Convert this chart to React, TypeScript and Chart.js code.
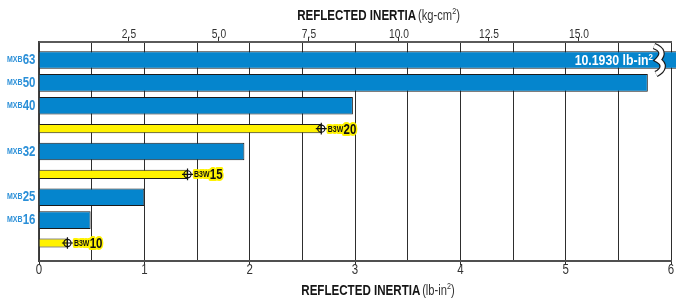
import React, { useEffect, useRef } from 'react';
import { Chart, registerables } from 'chart.js';

Chart.register(...registerables);

// ---- data ----
const blueLabels = ['MXB63', 'MXB50', 'MXB40', 'MXB32', 'MXB25', 'MXB16'];
const blueRows = [0, 1, 2, 4, 6, 7];
const blueValues = [10.193, 5.78, 2.98, 1.95, 1.0, 0.49];
const yellowLabels = ['B3W20', 'B3W15', 'B3W10'];
const yellowRows = [3, 5, 8];
const yellowValues = [2.68, 1.41, 0.27];
const bottomGrid = [0, 0.5, 1, 1.5, 2, 2.5, 3, 3.5, 4, 4.5, 5, 5.5, 6];
const topTicks = [2.5, 5.0, 7.5, 10.0, 12.5, 15.0];
const KG_CM2_PER_LB_IN2 = 2.9264;
const X_MAX = 6;
const breakValueLabel = '10.1930 lb-in';

// ---- styles ----
const FONT = '"Liberation Sans", Arial, sans-serif';
const SX = 0.82; // horizontal condensing for a Helvetica-Condensed look
const BLUE = '#0585cd';
const LABEL_BLUE = '#2a8fd8';
const YELLOW = '#fff200';
const EDGE = '#1b1b1b';
const GRID = '#2e2e2e';

function splitLabel(s: string): [string, string] {
  const m = s.match(/^(.*?)(\d+)$/);
  return m ? [m[1], m[2]] : [s, ''];
}

function capAscent(ctx: CanvasRenderingContext2D, font: string) {
  ctx.font = font;
  return ctx.measureText('0').actualBoundingBoxAscent;
}

function tw(ctx: CanvasRenderingContext2D, text: string, font: string, sx = SX) {
  ctx.font = font;
  return ctx.measureText(text).width * sx;
}

function txt(ctx: CanvasRenderingContext2D, text: string, x: number, y: number, font: string, sx = SX, stroke = false) {
  ctx.save();
  ctx.translate(x, y);
  ctx.scale(sx, 1);
  ctx.font = font;
  ctx.textAlign = 'left';
  ctx.textBaseline = 'alphabetic';
  if (stroke) ctx.strokeText(text, 0, 0);
  else ctx.fillText(text, 0, 0);
  ctx.restore();
}

function drawTitle(ctx: CanvasRenderingContext2D, cx: number, baseline: number, bold: string, unit: string) {
  const bFont = `bold 14.5px ${FONT}`;
  const nFont = `14px ${FONT}`;
  const sFont = `9px ${FONT}`;
  ctx.font = bFont;
  const wb = ctx.measureText(bold).width;
  const k = 119 / wb;
  ctx.font = nFont;
  const wsp = ctx.measureText(' ').width * 0.6;
  const w1 = ctx.measureText('(' + unit).width;
  const w3 = ctx.measureText(')').width;
  ctx.font = sFont;
  const w2 = ctx.measureText('2').width;
  const total = (wb + wsp + w1 + w2 + w3) * k;
  ctx.save();
  ctx.translate(cx - total / 2, baseline);
  ctx.scale(k, 1);
  ctx.fillStyle = '#151515';
  ctx.textBaseline = 'alphabetic';
  ctx.textAlign = 'left';
  ctx.font = bFont;
  ctx.fillText(bold, 0, 0);
  ctx.fillStyle = '#333';
  ctx.font = nFont;
  let x = wb + wsp;
  ctx.fillText('(' + unit, x, 0);
  x += w1;
  ctx.font = sFont;
  ctx.fillText('2', x, -6);
  x += w2;
  ctx.font = nFont;
  ctx.fillText(')', x, 0);
  ctx.restore();
}

function drawBreak(ctx: CanvasRenderingContext2D, cx: number, top: number, bottom: number) {
  const m = (top + bottom) / 2;
  const path = () => {
    ctx.beginPath();
    ctx.moveTo(cx - 5, top);
    ctx.bezierCurveTo(cx + 3, top + 3, cx + 5, m - 6, cx - 1, m);
    ctx.bezierCurveTo(cx + 6, m + 4, cx + 5, bottom - 4, cx - 3, bottom);
  };
  ctx.save();
  ctx.lineCap = 'butt';
  path();
  ctx.strokeStyle = EDGE;
  ctx.lineWidth = 6.5;
  ctx.stroke();
  path();
  ctx.strokeStyle = '#ffffff';
  ctx.lineWidth = 4.2;
  ctx.stroke();
  ctx.restore();
}

const overlayPlugin = {
  id: 'overlay',
  afterDatasetsDraw(chart: any) {
    const ctx: CanvasRenderingContext2D = chart.ctx;
    const xs = chart.scales.x;
    const x2 = chart.scales.x2;
    const ys = chart.scales.y;
    const area = chart.chartArea;
    ctx.save();

    // bottom tick labels
    {
      const f = `14px ${FONT}`;
      const a = capAscent(ctx, f);
      ctx.fillStyle = '#333';
      xs.ticks.forEach((t: any) => {
        if (!Number.isInteger(t.value)) return;
        const s = String(t.value);
        const w = tw(ctx, s, f);
        txt(ctx, s, xs.getPixelForValue(t.value) - w / 2, 269 + a / 2, f);
      });
    }
    // top tick labels
    {
      const f = `12.5px ${FONT}`;
      const a = capAscent(ctx, f);
      ctx.fillStyle = '#333';
      x2.ticks.forEach((t: any) => {
        const s = Number(t.value).toFixed(1);
        const w = tw(ctx, s, f);
        txt(ctx, s, x2.getPixelForValue(t.value) - w / 2, 33.8 + a / 2, f);
      });
    }

    const numFont = `bold 14px ${FONT}`;
    const preFont = `bold 8.5px ${FONT}`;
    const aNum = capAscent(ctx, numFont);
    const aPre = capAscent(ctx, preFont);

    // left category labels
    blueLabels.forEach((lab, i) => {
      const [p, n] = splitLabel(lab);
      const yc = ys.getPixelForValue(blueRows[i]) - 1;
      const wn = tw(ctx, n, numFont);
      const wp = tw(ctx, p, preFont);
      const xr = area.left - 3.5;
      ctx.fillStyle = LABEL_BLUE;
      txt(ctx, p, xr - wn - wp - 0.3, yc + aPre / 2, preFont);
      txt(ctx, n, xr - wn, yc + aNum / 2, numFont);
    });

    // broken bar: symbol + value label
    const y0 = ys.getPixelForValue(blueRows[0]);
    const bx = area.right - 12;
    drawBreak(ctx, bx, y0 - 14, y0 + 14);
    {
      const f = `bold 14px ${FONT}`;
      const a = capAscent(ctx, f);
      const sf = `bold 9px ${FONT}`;
      const w = tw(ctx, breakValueLabel, f, 0.88);
      const ws = tw(ctx, '2', sf, 0.88);
      const xEnd = bx - 6;
      ctx.fillStyle = '#ffffff';
      txt(ctx, breakValueLabel, xEnd - ws - w, y0 + a / 2, f, 0.88);
      txt(ctx, '2', xEnd - ws, y0 + a / 2 - 5, sf, 0.88);
    }

    // yellow markers and labels
    yellowLabels.forEach((lab, i) => {
      const [p, n] = splitLabel(lab);
      const x = xs.getPixelForValue(yellowValues[i]);
      const y = ys.getPixelForValue(yellowRows[i]);
      const lx = x + 6.5;
      const wp = tw(ctx, p, preFont);
      ctx.lineJoin = 'round';
      ctx.strokeStyle = YELLOW;
      ctx.lineWidth = 4;
      txt(ctx, p, lx, y + aPre / 2, preFont, SX, true);
      txt(ctx, n, lx + wp, y + aNum / 2, numFont, SX, true);
      ctx.fillStyle = '#111';
      txt(ctx, p, lx, y + aPre / 2, preFont);
      txt(ctx, n, lx + wp + 0.3, y + aNum / 2, numFont);
      ctx.strokeStyle = '#111';
      ctx.lineWidth = 1.2;
      ctx.beginPath();
      ctx.arc(x, y, 3.6, 0, Math.PI * 2);
      ctx.stroke();
      ctx.beginPath();
      ctx.moveTo(x - 5.5, y);
      ctx.lineTo(x + 5.5, y);
      ctx.moveTo(x, y - 5.8);
      ctx.lineTo(x, y + 5.8);
      ctx.stroke();
    });

    drawTitle(ctx, 378.5, 20, 'REFLECTED INERTIA', 'kg-cm');
    drawTitle(ctx, 378, 295, 'REFLECTED INERTIA', 'lb-in');
    ctx.restore();
  },
};

export default function App() {
  const ref = useRef<HTMLCanvasElement | null>(null);

  useEffect(() => {
    if (!ref.current) return;
    const allRows = blueRows.concat(yellowRows).sort((a, b) => a - b);
    const chart = new Chart(ref.current, {
      type: 'bar',
      data: {
        datasets: [
          {
            label: 'MXB',
            data: blueValues.map((v, i) => ({ x: v, y: blueRows[i] })),
            backgroundColor: BLUE,
            borderColor: EDGE,
            borderWidth: 1,
            borderSkipped: 'start',
            barPercentage: 0.77,
            categoryPercentage: 1,
            grouped: false,
            clip: false as any,
            xAxisID: 'x',
            yAxisID: 'y',
          },
          {
            label: 'B3W',
            data: yellowValues.map((v, i) => ({ x: v, y: yellowRows[i] })),
            backgroundColor: YELLOW,
            borderColor: EDGE,
            borderWidth: 1,
            borderSkipped: 'start',
            barPercentage: 0.4,
            categoryPercentage: 1,
            grouped: false,
            xAxisID: 'x',
            yAxisID: 'y',
          },
        ],
      } as any,
      options: {
        indexAxis: 'y',
        animation: false,
        responsive: true,
        maintainAspectRatio: false,
        layout: { padding: { left: 0, right: 5, top: 0, bottom: 0 } },
        plugins: { legend: { display: false }, tooltip: { enabled: false } },
        scales: {
          x: {
            type: 'linear',
            position: 'bottom',
            min: 0,
            max: X_MAX,
            offset: false,
            afterBuildTicks: (s: any) => {
              s.ticks = bottomGrid.map((v) => ({ value: v }));
            },
            ticks: { display: false, autoSkip: false },
            grid: {
              color: GRID,
              lineWidth: 1,
              tickLength: 4,
              tickColor: (c: any) => (c.tick && Number.isInteger(c.tick.value) ? GRID : 'rgba(0,0,0,0)'),
            },
            border: { color: '#505050', width: 2 },
            afterFit: (s: any) => {
              s.height = 45;
            },
          },
          x2: {
            type: 'linear',
            position: 'top',
            min: 0,
            max: X_MAX * KG_CM2_PER_LB_IN2,
            offset: false,
            afterBuildTicks: (s: any) => {
              s.ticks = topTicks.map((v) => ({ value: v }));
            },
            ticks: { display: false, autoSkip: false },
            grid: { drawOnChartArea: false, tickLength: 5, color: '#333', lineWidth: 1 },
            border: { color: '#5a5a5a', width: 2 },
            afterFit: (s: any) => {
              s.height = 42;
            },
          },
          y: {
            type: 'linear',
            reverse: true,
            offset: false,
            min: -0.787,
            max: 8.787,
            afterBuildTicks: (s: any) => {
              s.ticks = allRows.map((v) => ({ value: v }));
            },
            ticks: { display: false },
            grid: { display: false },
            border: { color: '#404040', width: 1.5 },
            afterFit: (s: any) => {
              s.width = 39;
            },
          },
        },
      } as any,
      plugins: [overlayPlugin],
    });
    return () => chart.destroy();
  }, []);

  return (
    <div style={{ position: 'fixed', left: 0, top: 0, width: 676, height: 306, background: '#fff' }}>
      <canvas ref={ref} />
    </div>
  );
}
